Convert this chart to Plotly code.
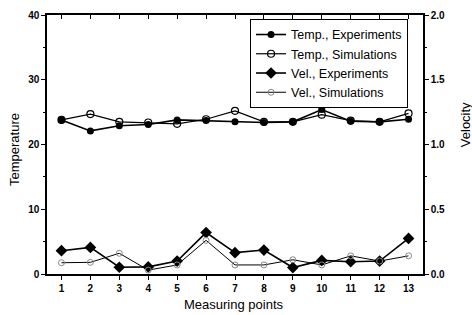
import plotly.graph_objects as go

points = list(range(1, 14))
x_labels = [str(p) for p in points]
temp_exp = [23.8, 22.1, 22.9, 23.1, 23.8, 23.7, 23.5, 23.4, 23.5, 25.4, 23.6, 23.5, 23.9]
temp_sim = [23.8, 24.7, 23.5, 23.4, 23.2, 23.9, 25.2, 23.5, 23.5, 24.6, 23.7, 23.5, 24.8]
vel_exp = [0.18, 0.205, 0.052, 0.055, 0.10, 0.32, 0.165, 0.185, 0.05, 0.105, 0.095, 0.10, 0.275]
vel_sim = [0.087, 0.09, 0.16, 0.03, 0.07, 0.26, 0.07, 0.07, 0.11, 0.07, 0.14, 0.10, 0.14]

FONT = "Liberation Sans, Arial, sans-serif"

fig = go.Figure()
fig.add_trace(go.Scatter(x=points, y=temp_exp, name="Temp., Experiments", mode="lines+markers",
                         line=dict(color="black", width=1.6),
                         marker=dict(symbol="circle", size=7, color="black")))
fig.add_trace(go.Scatter(x=points, y=temp_sim, name="Temp., Simulations", mode="lines+markers",
                         line=dict(color="black", width=1.2),
                         marker=dict(symbol="circle-open", size=7, color="black", line=dict(width=1.2))))
fig.add_trace(go.Scatter(x=points, y=vel_exp, name="Vel., Experiments", mode="lines+markers", yaxis="y2",
                         line=dict(color="black", width=1.6),
                         marker=dict(symbol="diamond", size=9, color="black")))
fig.add_trace(go.Scatter(x=points, y=vel_sim, name="Vel., Simulations", mode="lines+markers", yaxis="y2",
                         line=dict(color="black", width=1),
                         marker=dict(symbol="circle-open", size=6, color="#888", line=dict(width=1))))
# invisible trace for top axis ticks
fig.add_trace(go.Scatter(x=points, y=temp_exp, xaxis="x2", mode="none", showlegend=False, hoverinfo="skip"))

tickfont = dict(family=FONT, size=10, color="black", weight="bold")
titlefont = dict(family=FONT, size=13, color="black")
fig.update_layout(
    width=472, height=315,
    margin=dict(l=47, r=49, t=15, b=41, autoexpand=False),
    paper_bgcolor="white", plot_bgcolor="white",
    font=dict(family=FONT, color="black"),
    xaxis=dict(range=[0.5, 13.5], tickmode="array", tickvals=points, ticktext=x_labels,
               ticks="outside", ticklen=4, tickwidth=1.2, tickcolor="black", automargin=False,
               showline=True, linecolor="black", linewidth=1.5, showgrid=False, zeroline=False,
               tickfont=tickfont, ticklabelstandoff=0),
    xaxis2=dict(range=[0.5, 13.5], overlaying="x", side="top", tickmode="array", tickvals=points,
                ticks="inside", ticklen=4, tickcolor="black", showticklabels=False, automargin=False,
                showline=True, linecolor="black", linewidth=1.5, showgrid=False, zeroline=False),
    yaxis=dict(range=[0, 40], tickvals=[0, 10, 20, 30, 40], ticks="outside", ticklen=4, tickwidth=1.2,
               tickcolor="black", showline=True, linecolor="black", linewidth=1.5, showgrid=False,
               zeroline=False, tickfont=tickfont, automargin=False,
               minor=dict(tickvals=[5, 15, 25, 35], ticks="outside", ticklen=2, tickcolor="black")),
    yaxis2=dict(range=[0, 2.0], overlaying="y", side="right", tickvals=[0, 0.5, 1.0, 1.5, 2.0],
                ticktext=["0.0", "0.5", "1.0", "1.5", "2.0"], automargin=False,
                ticks="outside", ticklen=4, tickwidth=1.2, tickcolor="black", showline=True,
                linecolor="black", linewidth=1.5, showgrid=False, zeroline=False, tickfont=tickfont,
                minor=dict(tickvals=[0.25, 0.75, 1.25, 1.75], ticks="outside", ticklen=2, tickcolor="black")),
    legend=dict(x=0.54, y=0.985, xanchor="left", yanchor="top", bgcolor="white",
                bordercolor="black", borderwidth=1, font=dict(family=FONT, size=12.5, color="black"),
                tracegroupgap=0, itemsizing="trace", itemwidth=30),
    showlegend=True,
    annotations=[
        dict(text="Temperature", xref="paper", yref="paper", x=-0.085, y=0.479, textangle=-90,
             showarrow=False, font=titlefont, xanchor="center", yanchor="middle"),
        dict(text="Velocity", xref="paper", yref="paper", x=1.112, y=0.575, textangle=-90,
             showarrow=False, font=titlefont, xanchor="center", yanchor="middle"),
        dict(text="Measuring points", xref="paper", yref="paper", x=0.497, y=-0.118,
             showarrow=False, font=titlefont, xanchor="center", yanchor="middle"),
    ],
)

fig.write_html("out.html", config={"displayModeBar": False},
               post_script="document.body.style.margin='0px';")
